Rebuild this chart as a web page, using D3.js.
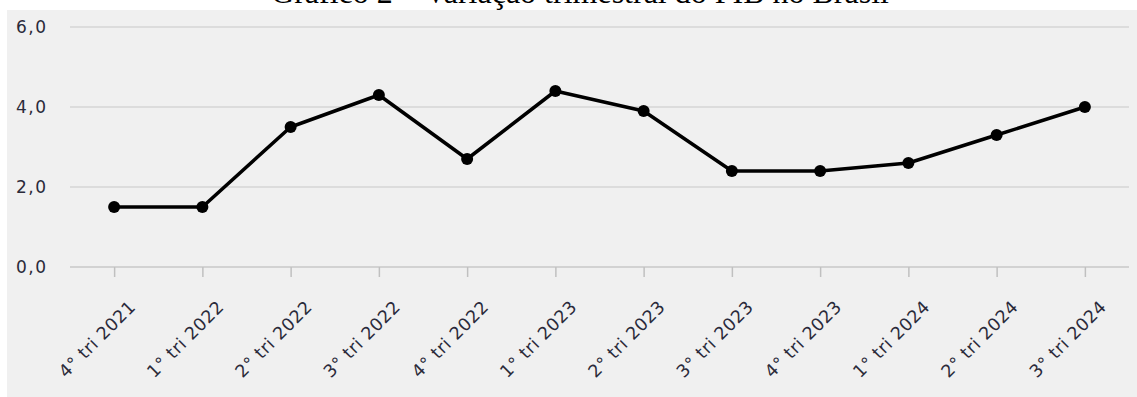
<!DOCTYPE html>
<html lang="pt-BR">
<head>
<meta charset="utf-8">
<script src="https://cdn.jsdelivr.net/npm/d3@7"></script>
<style>
  html, body { margin: 0; padding: 0; background: #ffffff; }
  svg { display: block; }
</style>
</head>
<body>
<svg id="chart" width="1137" height="397"></svg>
<script>
// Trimestres e variação do PIB (%)
const quarters = [
  "4° tri 2021", "1° tri 2022", "2° tri 2022", "3° tri 2022",
  "4° tri 2022", "1° tri 2023", "2° tri 2023", "3° tri 2023",
  "4° tri 2023", "1° tri 2024", "2° tri 2024", "3° tri 2024"
];
const gdpChange = [1.5, 1.5, 3.5, 4.3, 2.7, 4.4, 3.9, 2.4, 2.4, 2.6, 3.3, 4.0];
const yTicks = [0, 2, 4, 6];
const titleText = "Gráfico 2 – Variação trimestral do PIB no Brasil";

const W = 1137, H = 397;
const panel = { x: 7, y: 10 };
const plot = { left: 70, right: 1129, top: 27, bottom: 267 };
const labelFont = "'DejaVu Sans', Verdana, sans-serif";
const textColor = "#2a2a3a";

const svg = d3.select("#chart");

// chart background panel
svg.append("rect")
  .attr("x", panel.x).attr("y", panel.y)
  .attr("width", W - panel.x).attr("height", H - panel.y)
  .attr("fill", "#f0f0f0");

// title (partly above the drawing area)
svg.append("text")
  .attr("x", 580).attr("y", 3)
  .attr("text-anchor", "middle")
  .attr("font-family", "'Liberation Serif', 'Times New Roman', serif")
  .attr("font-size", 32)
  .attr("fill", "#000")
  .text(titleText);

const x = d3.scalePoint()
  .domain(quarters)
  .range([plot.left, plot.right])
  .padding(0.5);

const y = d3.scaleLinear()
  .domain([0, 6])
  .range([plot.bottom, plot.top]);

// horizontal gridlines
svg.append("g")
  .selectAll("line")
  .data(yTicks.filter(d => d !== 0))
  .join("line")
  .attr("x1", plot.left).attr("x2", plot.right)
  .attr("y1", d => y(d)).attr("y2", d => y(d))
  .attr("stroke", "#d6d6d6")
  .attr("stroke-width", 1.5);

// y axis labels
const yAxis = d3.axisLeft(y)
  .tickValues(yTicks)
  .tickSize(0)
  .tickPadding(0)
  .tickFormat(d => d3.format(".1f")(d).replace(".", ","));

const gy = svg.append("g")
  .attr("transform", `translate(16,0)`)
  .call(yAxis);
gy.select(".domain").remove();
gy.selectAll("text")
  .attr("text-anchor", "start")
  .attr("font-family", labelFont)
  .attr("font-size", 17)
  .attr("letter-spacing", "1.5px")
  .attr("fill", textColor);

// x axis with ticks
const xAxis = d3.axisBottom(x)
  .tickSize(10)
  .tickSizeOuter(0)
  .tickPadding(0);

const gx = svg.append("g")
  .attr("transform", `translate(0,${plot.bottom})`)
  .call(xAxis);
gx.select(".domain")
  .attr("d", `M${plot.left},0H${plot.right}`)
  .attr("stroke", "#c8c8c8")
  .attr("stroke-width", 1.5);
gx.selectAll(".tick line")
  .attr("stroke", "#c0c0c0")
  .attr("stroke-width", 1.5);
gx.selectAll(".tick text")
  .attr("font-family", labelFont)
  .attr("font-size", 17.5)
  .attr("letter-spacing", "0.5px")
  .attr("fill", textColor)
  .attr("text-anchor", "end")
  .attr("dy", 0)
  .attr("y", 0)
  .attr("transform", "translate(22,41) rotate(-45)");

// data line
const line = d3.line()
  .x((d, i) => x(quarters[i]))
  .y(d => y(d));

svg.append("path")
  .datum(gdpChange)
  .attr("d", line)
  .attr("fill", "none")
  .attr("stroke", "#000")
  .attr("stroke-width", 3.5)
  .attr("stroke-linejoin", "round");

// markers
svg.append("g")
  .selectAll("circle")
  .data(gdpChange)
  .join("circle")
  .attr("cx", (d, i) => x(quarters[i]))
  .attr("cy", d => y(d))
  .attr("r", 6)
  .attr("fill", "#000");
</script>
</body>
</html>
